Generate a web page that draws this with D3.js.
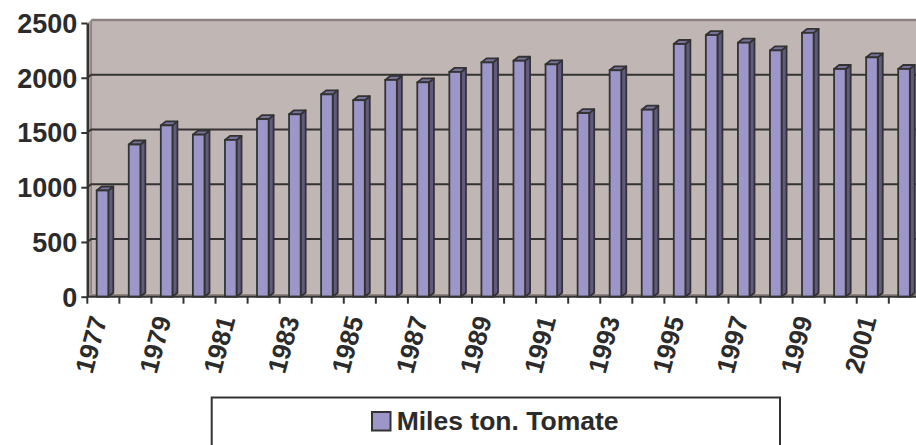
<!DOCTYPE html>
<html><head><meta charset="utf-8">
<script src="https://cdn.jsdelivr.net/npm/d3@7"></script>
<style>body{margin:0;background:#fff;overflow:hidden}svg{display:block}</style>
</head><body>
<svg id="c" width="916" height="445"></svg>
<script>
const years = ["1977","1978","1979","1980","1981","1982","1983","1984","1985","1986","1987","1988","1989","1990","1991","1992","1993","1994","1995","1996","1997","1998","1999","2000","2001","2002"];
const values = [970,1390,1565,1480,1432,1622,1666,1848,1795,1980,1958,2053,2140,2155,2122,1677,2068,1708,2308,2390,2320,2250,2410,2080,2186,2080];
const yTicks = [0,500,1000,1500,2000,2500];
const seriesName = "Miles ton. Tomate";

const svg = d3.select("#c");
const ink = "#333333";
const wallC = "#c0b7b4", barC = "#9d97c9";
const x = d3.scaleBand().domain(years).range([87.3, 87.3 + 26*32.06]).padding(0);
const y = d3.scaleLinear().domain([0,2500]).range([296.7, 23]);
const wdx = 4, wdy = 3;      // wall depth
const bdx = 5, bdy = 4;      // bar depth
const xL = x.range()[0], xR = x.range()[1];
const font = "Liberation Sans, Arial, sans-serif";

// back wall
svg.append("rect").attr("x", xL+wdx).attr("y", y(2500)-wdy).attr("width", xR-xL).attr("height", y(0)-y(2500))
  .attr("fill", wallC);
// side wall
svg.append("path").attr("d", `M${xL},${y(2500)} L${xL+wdx},${y(2500)-wdy} L${xL+wdx},${y(0)-wdy} L${xL},${y(0)} Z`).attr("fill", "#a89e9b");
// wall borders
svg.append("path").attr("d", `M${xL+wdx},${y(2500)-wdy} L${xR+wdx},${y(2500)-wdy}`).attr("stroke", "#8c8180").attr("stroke-width", 2.5);
svg.append("path").attr("d", `M${xL+wdx},${y(2500)-wdy} L${xL+wdx},${y(0)-wdy}`).attr("stroke", "#8c8180").attr("stroke-width", 1.5);
// floor
svg.append("path").attr("d", `M${xL},${y(0)} L${xL+wdx},${y(0)-wdy} L${xR+wdx},${y(0)-wdy} L${xR},${y(0)} Z`).attr("fill", "#8f8380");

// gridlines
svg.selectAll(".grid").data(yTicks.filter(d=>d>0 && d<2500)).join("path")
  .attr("d", d => `M${xL},${y(d)} L${xL+wdx},${y(d)-wdy} L${xR+wdx},${y(d)-wdy}`)
  .attr("fill","none").attr("stroke", ink).attr("stroke-width", 2);

// bars
const g = svg.append("g");
years.forEach((yr,i) => {
  const x0 = x(yr) + 9.4, x1 = x0 + 11.6, yv = y(values[i]), y0 = y(0);
  g.append("path").attr("d", `M${x1},${yv} L${x1+bdx},${yv-bdy} L${x1+bdx},${y0-bdy} L${x1},${y0} Z`)
    .attr("fill", "#5f5a7e").attr("stroke", ink).attr("stroke-width", 1.8).attr("stroke-linejoin","round");
  g.append("path").attr("d", `M${x0},${yv} L${x0+bdx},${yv-bdy} L${x1+bdx},${yv-bdy} L${x1},${yv} Z`)
    .attr("fill", "#77719c").attr("stroke", ink).attr("stroke-width", 1.8).attr("stroke-linejoin","round");
  g.append("rect").attr("x", x0).attr("y", yv).attr("width", x1-x0).attr("height", y0-yv)
    .attr("fill", barC).attr("stroke", ink).attr("stroke-width", 1.8);
});

// left axis
const ax = svg.append("g").attr("transform", `translate(${xL},0)`)
  .call(d3.axisLeft(y).tickValues(yTicks).tickFormat(d3.format("d")).tickSize(6).tickSizeOuter(0));
ax.select(".domain").attr("stroke", ink).attr("stroke-width", 2.5);
ax.selectAll(".tick line").attr("stroke", ink).attr("stroke-width", 2);
ax.selectAll(".tick text").attr("fill", "#2b2b2b").attr("font-family", font)
  .attr("font-weight", "bold").attr("font-size", 27).attr("dy", "0.35em").attr("x", -10);

// bottom axis
svg.append("path").attr("d", `M${xL},${y(0)} L${xR},${y(0)}`).attr("stroke", ink).attr("stroke-width", 2);
svg.selectAll(".xt").data(years.concat(["end"])).join("line")
  .attr("x1", (d,i)=> xL + i*x.bandwidth()).attr("x2", (d,i)=> xL + i*x.bandwidth())
  .attr("y1", y(0)).attr("y2", y(0)+7).attr("stroke", ink).attr("stroke-width", 2);
svg.selectAll(".xl").data(years.filter((d,i)=> i%2===0)).join("text")
  .attr("transform", d => `translate(${x(d)+x.bandwidth()/2+4},319) rotate(-75)`)
  .attr("text-anchor", "end").attr("fill", "#2b2b2b")
  .attr("font-family", font).attr("font-weight", "bold").attr("font-size", 26)
  .text(d => d);

// legend
svg.append("rect").attr("x", 211.7).attr("y", 397.5).attr("width", 780-211.7).attr("height", 60)
  .attr("fill", "#fff").attr("stroke", ink).attr("stroke-width", 2);
svg.append("rect").attr("x", 372).attr("y", 412).attr("width", 18.5).attr("height", 18.5)
  .attr("fill", barC).attr("stroke", ink).attr("stroke-width", 2);
svg.append("text").attr("x", 396.7).attr("y", 430).attr("fill", "#2b2b2b")
  .attr("font-family", font).attr("font-weight", "bold").attr("font-size", 26.5)
  .text(seriesName);
</script>
</body></html>
